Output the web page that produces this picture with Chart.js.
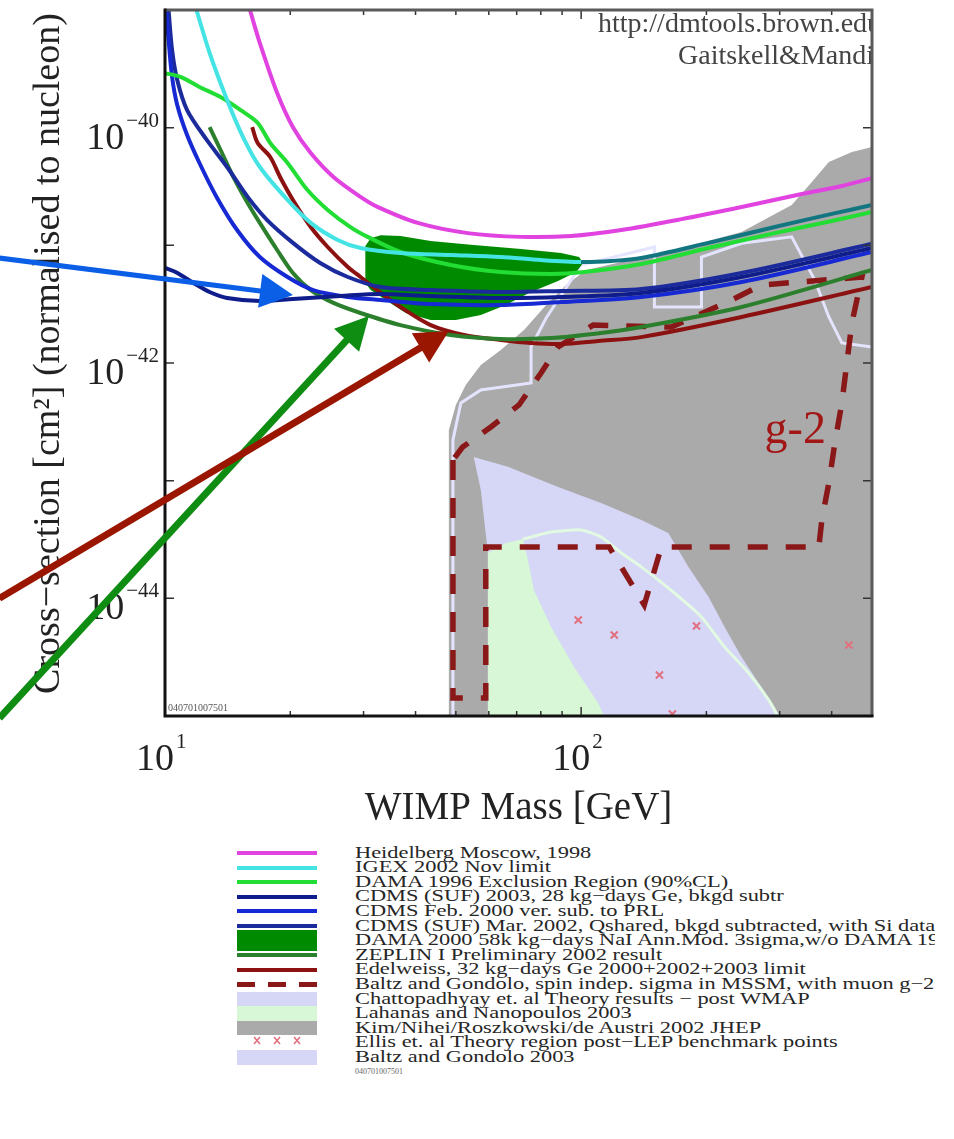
<!DOCTYPE html>
<html>
<head>
<meta charset="utf-8">
<title>WIMP-nucleon cross-section limits</title>
<script src="https://cdn.jsdelivr.net/npm/chart.js@4.4.1/dist/chart.umd.min.js"></script>
<style>
  html, body { margin: 0; padding: 0; background: #fff; }
  #page { position: relative; width: 954px; height: 1139px; overflow: hidden;
          font-family: "Liberation Serif", "Times New Roman", Times, serif; }
  #chart { position: absolute; left: 0; top: 0; }
  #legend { position: absolute; left: 237px; top: 845.7px; width: 698px; overflow: hidden; }
  .row { position: relative; height: 14.6px; white-space: nowrap; }
  .sw { position: absolute; left: 0; width: 80px; }
  .txt { position: absolute; left: 118px; top: 0; height: 14.6px; line-height: 14.6px;
         font-size: 22.4px; color: #262626; transform: scaleY(0.75); transform-origin: 0 50%; }
  #ident { position: absolute; left: 355px; top: 1067px; font-size: 8px; color: #666; }
</style>
</head>
<body>
<div id="page">
  <canvas id="chart" width="954" height="840"></canvas>
  <div id="legend"></div>
  <div id="ident">040701007501</div>
</div>
<script>
// ---- axis ticks (labels are 10 raised to the given exponent) ----------
const massTicks = [10, 20, 30, 40, 50, 60, 70, 80, 90, 100, 200, 300, 400, 500];
const massTickExp = ['1', '', '', '', '', '', '', '', '', '2', '', '', '', ''];
const sigmaTicks = [1e-45, 1e-44, 1e-43, 1e-42, 1e-41, 1e-40, 1e-39];
const sigmaTickExp = ['', '\u221244', '', '\u221242', '', '\u221240', ''];

// ---- experimental limits: WIMP mass [GeV] / cross-section [cm^2] ------
const hmMass  = [16.0, 16.9, 18.6, 20.3, 22.4, 25.4, 29.5, 32.4, 40.5, 53.4, 71.7, 94.6, 124.9, 174.2, 243, 338.9, 423.2, 500];
const hmSigma = [1.0e-39, 5.24e-40, 1.97e-40, 1.01e-40, 6.09e-41, 3.81e-41, 2.58e-41, 2.12e-41, 1.55e-41, 1.27e-41, 1.18e-41, 1.20e-41, 1.35e-41, 1.67e-41, 2.12e-41, 2.73e-41, 3.19e-41, 3.73e-41];

const igexMass  = [11.9, 12.8, 14.1, 15.4, 16.9, 19.7, 22.4, 26.0, 29.5, 36.8, 48.6, 64.1, 80.1, 100, 118.1, 139.5, 202.3, 291.8, 400.5, 500];
const igexSigma = [1.0e-39, 4.31e-40, 1.72e-40, 8.33e-41, 4.63e-41, 2.43e-41, 1.55e-41, 1.11e-41, 9.49e-42, 8.61e-42, 8.28e-42, 7.96e-42, 7.50e-42, 7.22e-42, 7.36e-42, 7.80e-42, 1.05e-41, 1.43e-41, 1.85e-41, 2.20e-41];

const dama96Mass  = [10.0, 10.9, 12.1, 13.6, 15.2, 16.7, 17.9, 19.7, 22.0, 24.6, 27.9, 30.7, 36.8, 48.6, 64.1, 84.7, 101.7, 139.5, 202.3, 291.8, 400.5, 500];
const dama96Sigma = [2.91e-40, 2.70e-40, 2.22e-40, 1.82e-40, 1.41e-40, 1.10e-40, 7.41e-41, 5.01e-41, 2.95e-41, 2.00e-41, 1.43e-41, 1.18e-41, 8.78e-42, 6.81e-42, 5.93e-42, 5.71e-42, 5.93e-42, 6.94e-42, 9.49e-42, 1.27e-41, 1.61e-41, 1.92e-41];

const cdms03Mass  = [10.0, 10.6, 11.7, 12.8, 14.1, 16.9, 20.3, 26.4, 33.0, 43.5, 64.1, 89.5, 139.5, 243, 500];
const cdms03Sigma = [6.42e-42, 5.93e-42, 4.79e-42, 4.01e-42, 3.57e-42, 3.37e-42, 3.50e-42, 3.71e-42, 3.86e-42, 3.71e-42, 3.57e-42, 3.64e-42, 3.94e-42, 5.38e-42, 9.49e-42];

const cdms00Mass  = [10.06, 10.2, 10.4, 10.7, 11.3, 12.1, 13.3, 14.9, 16.9, 19.7, 22.7, 27.5, 33.0, 43.5, 64.1, 89.5, 139.5, 243, 500];
const cdms00Sigma = [1.0e-39, 5.56e-40, 2.70e-40, 1.56e-40, 8.66e-41, 5.01e-41, 2.58e-41, 1.35e-41, 7.96e-42, 5.38e-42, 4.17e-42, 3.64e-42, 3.43e-42, 3.17e-42, 3.11e-42, 3.30e-42, 3.64e-42, 4.88e-42, 8.78e-42];

const cdms02Mass  = [10.2, 10.4, 10.7, 11.3, 12.6, 14.1, 15.8, 17.6, 20.3, 23.6, 27.5, 33.0, 43.5, 64.1, 89.5, 139.5, 243, 500];
const cdms02Sigma = [1.0e-39, 4.57e-40, 2.54e-40, 1.41e-40, 7.86e-41, 4.63e-41, 2.58e-41, 1.64e-41, 1.05e-41, 7.08e-42, 5.38e-42, 4.42e-42, 4.17e-42, 4.01e-42, 4.09e-42, 4.25e-42, 5.82e-42, 1.03e-41];

const zeplinMass  = [12.8, 13.6, 14.6, 15.8, 16.9, 18.6, 20.3, 22.4, 25.4, 29.5, 36.8, 48.6, 64.1, 84.7, 111.7, 139.5, 243, 500];
const zeplinSigma = [1.01e-40, 6.46e-41, 3.81e-41, 2.29e-41, 1.55e-41, 9.13e-42, 5.82e-42, 4.17e-42, 3.24e-42, 2.66e-42, 2.10e-42, 1.73e-42, 1.60e-42, 1.63e-42, 1.80e-42, 2.02e-42, 2.99e-42, 6.17e-42];

const edelMass  = [16.2, 16.7, 17.9, 18.9, 20.3, 22.4, 24.6, 27.5, 29.5, 33.0, 36.8, 43.5, 52.3, 64.1, 75.8, 89.5, 109.9, 139.5, 243, 500];
const edelSigma = [1.01e-40, 7.41e-41, 5.63e-41, 3.81e-41, 2.43e-41, 1.43e-41, 9.68e-42, 6.54e-42, 5.38e-42, 3.94e-42, 2.99e-42, 2.10e-42, 1.73e-42, 1.57e-42, 1.48e-42, 1.45e-42, 1.54e-42, 1.66e-42, 2.46e-42, 4.42e-42];

// DAMA 2000 annual-modulation region (closed contour)
const dama00Mass  = [30.3, 31.2, 33.0, 36.8, 43.5, 54.3, 71.7, 89.5, 98.9, 101.1, 97.3, 88.0, 75.8, 65.9, 57.4, 50.0, 43.5, 37.9, 33.9, 31.2, 30.3, 30.3];
const dama00Sigma = [9.87e-42, 1.15e-41, 1.22e-41, 1.20e-41, 1.09e-41, 1.01e-41, 9.31e-42, 8.61e-42, 7.96e-42, 7.08e-42, 5.93e-42, 4.98e-42, 4.01e-42, 3.11e-42, 2.56e-42, 2.32e-42, 2.32e-42, 2.66e-42, 3.43e-42, 4.17e-42, 4.79e-42, 9.87e-42];

// ---- theory regions (closed contours) ---------------------------------
const kimMass  = [48.1, 48.1, 50.0, 52.8, 57.4, 64.1, 72.9, 82.4, 92.0, 102.8, 124.9, 174.2, 243, 320.6, 358.4, 393.8, 447.3, 500, 500, 48.1];
const kimSigma = [1e-45, 2.70e-43, 4.40e-43, 6.51e-43, 9.62e-43, 1.29e-42, 1.91e-42, 3.11e-42, 4.60e-42, 6.17e-42, 7.22e-42, 9.49e-42, 1.30e-41, 2.20e-41, 3.45e-41, 5.11e-41, 6.21e-41, 6.85e-41, 1e-45, 1e-45];

const chatMass  = [59.7, 59.7, 57.4, 55.2, 66.7, 88.0, 111.7, 139.5, 162.0, 171.3, 181.1, 202.3, 221.2, 243, 267, 291.8, 300, 59.7];
const chatSigma = [1e-45, 2.43e-44, 8.33e-44, 1.59e-43, 1.31e-43, 8.84e-44, 6.46e-44, 4.63e-44, 3.59e-44, 2.58e-44, 1.85e-44, 1.03e-44, 5.71e-45, 3.17e-45, 1.91e-45, 1.19e-45, 1e-45, 1e-45];

const lahanasMass  = [59.7, 59.7, 65.9, 72.5, 74.5, 77.0, 84.7, 96.2, 109.9, 113.6, 59.7];
const lahanasSigma = [1e-45, 2.43e-44, 2.95e-44, 3.19e-44, 2.12e-44, 1.18e-44, 5.71e-45, 2.61e-45, 1.29e-45, 1e-45, 1e-45];

const lahanasEdgeMass  = [72.5, 84.7, 100, 111.7, 124.9, 139.5, 167.5, 194.6, 221.2, 252.6, 282.2, 296.7];
const lahanasEdgeSigma = [3.19e-44, 3.66e-44, 3.81e-44, 3.32e-44, 2.43e-44, 1.85e-44, 1.11e-44, 6.94e-45, 3.86e-45, 2.32e-45, 1.37e-45, 1e-45];

const baltz03Mass  = [49.2, 49.2, 51.4, 57.4, 75.8, 75.8, 82.4, 100, 150, 150, 194.6, 194.6, 243, 320.6, 364.3, 393.8, 423.2, 500];
const baltz03Sigma = [1e-45, 2.22e-43, 4.57e-43, 5.90e-43, 6.76e-43, 1.37e-42, 2.41e-42, 6.81e-42, 9.68e-42, 2.99e-42, 2.99e-42, 7.96e-42, 1.04e-41, 1.18e-41, 5.07e-42, 2.46e-42, 1.48e-42, 1.37e-42];

const baltzG2Mass  = [49.2, 49.2, 59.0, 59.0, 116.8, 141.8, 155.9, 372.6, 378.8, 393.8, 407.1, 423.2, 435.0, 447.3, 472.8, 271.5, 229.8, 164.8, 106.9, 88.0, 80.1, 70.9, 60.7, 51.9, 49.2];
const baltzG2Sigma = [1.50e-43, 1.42e-45, 1.42e-45, 2.73e-44, 2.73e-44, 8.78e-45, 2.73e-44, 2.73e-44, 4.63e-44, 9.56e-44, 2.09e-43, 4.57e-43, 1.0e-42, 2.19e-42, 5.38e-42, 4.60e-42, 3.43e-42, 2.02e-42, 2.10e-42, 1.37e-42, 8.22e-43, 4.40e-43, 2.86e-43, 1.93e-43, 1.50e-43];

const ellisMass  = [98.4, 120.1, 189.3, 154.2, 165.7, 439.9];
const ellisSigma = [6.55e-45, 4.88e-45, 5.82e-45, 2.23e-45, 1.04e-45, 4.01e-45];

// ---- pointer arrows (tail -> head) ------------------------------------
const arrowTailMass  = [4.0, 4.0, 4.0];
const arrowTailSigma = [7.8e-42, 9.6e-46, 1.0e-44];
const arrowHeadMass  = [20.3, 30.9, 48.1];
const arrowHeadSigma = [3.78e-42, 2.51e-42, 1.87e-42];
const arrowColors    = ['#0b5ee6', '#0f8c12', '#9a1600'];
const arrowWidths    = [5, 7, 7];

const g2Label = { text: 'g-2', mass: 276, sigma: 2.1e-43 };

const SERIF = '"Liberation Serif", "Times New Roman", Times, serif';
const pts = (xs, ys) => xs.map((x, i) => ({ x, y: ys[i] }));

function curve(label, xs, ys, color, order, extra) {
  return Object.assign({
    label, data: pts(xs, ys), showLine: true, borderColor: color, backgroundColor: color,
    borderWidth: 4, pointRadius: 0, pointHoverRadius: 0, tension: 0.3, fill: false, order
  }, extra || {});
}
function region(label, xs, ys, color, order) {
  return {
    label, data: pts(xs, ys), showLine: true, borderColor: 'rgba(0,0,0,0)', borderWidth: 0.01,
    backgroundColor: color, pointRadius: 0, pointHoverRadius: 0, tension: 0, fill: 'shape', order
  };
}

const datasets = [
  curve('Heidelberg Moscow, 1998', hmMass, hmSigma, '#e043e0', 10),
  curve('IGEX 2002 Nov limit', igexMass, igexSigma, '#44e4e4', 11, {
    segment: { borderColor: c => (c.p0.parsed.x >= 100 ? '#127680' : '#44e4e4') }
  }),
  curve('DAMA 1996 Exclusion Region (90%CL)', dama96Mass, dama96Sigma, '#22dd33', 12),
  curve('CDMS (SUF) 2003, 28 kg\u2212days Ge, bkgd subtr', cdms03Mass, cdms03Sigma, '#0f1d8c', 13),
  curve('CDMS Feb. 2000 ver. sub. to PRL', cdms00Mass, cdms00Sigma, '#1629d2', 14),
  curve('CDMS (SUF) Mar. 2002, Qshared, bkgd subtracted, with Si data', cdms02Mass, cdms02Sigma, '#1b2b9c', 15),
  region('DAMA 2000 58k kg\u2212days NaI Ann.Mod. 3sigma,w/o DAMA 1996', dama00Mass, dama00Sigma, '#008a00', 30),
  curve('ZEPLIN I Preliminary 2002 result', zeplinMass, zeplinSigma, '#2c7f2c', 16),
  curve('Edelweiss, 32 kg\u2212days Ge 2000+2002+2003 limit', edelMass, edelSigma, '#8c1212', 17),
  curve('Baltz and Gondolo, spin indep. sigma in MSSM, with muon g\u22122 constraint', baltzG2Mass, baltzG2Sigma, '#8a1818', 40,
        { tension: 0, borderWidth: 5.5, borderDash: [20, 18], borderCapStyle: 'butt', borderJoinStyle: 'miter' }),
  region('Chattopadhyay et. al Theory results \u2212 post WMAP', chatMass, chatSigma, '#d6d6f6', 90),
  region('Lahanas and Nanopoulos 2003', lahanasMass, lahanasSigma, '#d7f7d7', 85),
  curve('Lahanas and Nanopoulos 2003 boundary', lahanasEdgeMass, lahanasEdgeSigma, '#e2fae2', 84, { borderWidth: 3, tension: 0.2 }),
  region('Kim/Nihei/Roszkowski/de Austri 2002 JHEP', kimMass, kimSigma, '#aaaaaa', 100),
  {
    label: 'Ellis et. al Theory region post\u2212LEP benchmark points', data: pts(ellisMass, ellisSigma),
    showLine: false, pointStyle: 'crossRot', pointRadius: 5, pointHoverRadius: 5,
    borderColor: '#e2707e', backgroundColor: '#f4c8cf', pointBorderWidth: 2, order: 35
  },
  curve('Baltz and Gondolo 2003', baltz03Mass, baltz03Sigma, '#e4e4ff', 95, { borderWidth: 3, tension: 0 })
];

// legend rows (drawn as HTML below the plot)
const legendRows = [
  ['Heidelberg Moscow, 1998', 'line', '#e043e0'],
  ['IGEX 2002 Nov limit', 'line', '#44e4e4'],
  ['DAMA 1996 Exclusion Region (90%CL)', 'line', '#22dd33'],
  ['CDMS (SUF) 2003, 28 kg\u2212days Ge, bkgd subtr', 'line', '#0f1d8c'],
  ['CDMS Feb. 2000 ver. sub. to PRL', 'line', '#1629d2'],
  ['CDMS (SUF) Mar. 2002, Qshared, bkgd subtracted, with Si data', 'line', '#1b2b9c'],
  ['DAMA 2000 58k kg\u2212days NaI Ann.Mod. 3sigma,w/o DAMA 1996', 'thick', '#008a00'],
  ['ZEPLIN I Preliminary 2002 result', 'line', '#2c7f2c'],
  ['Edelweiss, 32 kg\u2212days Ge 2000+2002+2003 limit', 'line', '#8c1212'],
  ['Baltz and Gondolo, spin indep. sigma in MSSM, with muon g\u22122 constraint', 'dash', '#8a1818'],
  ['Chattopadhyay et. al Theory results \u2212 post WMAP', 'block', '#d6d6f6'],
  ['Lahanas and Nanopoulos 2003', 'block', '#d7f7d7'],
  ['Kim/Nihei/Roszkowski/de Austri 2002 JHEP', 'block', '#aaaaaa'],
  ['Ellis et. al Theory region post\u2212LEP benchmark points', 'marks', '#e2707e'],
  ['Baltz and Gondolo 2003', 'block', '#d6d6f6']
];

(function buildLegend() {
  const box = document.getElementById('legend');
  legendRows.forEach(([text, kind, color]) => {
    const row = document.createElement('div');
    row.className = 'row';
    let sw = '';
    if (kind === 'line') sw = `<div class="sw" style="top:5.3px;height:4px;background:${color}"></div>`;
    else if (kind === 'thick') sw = `<div class="sw" style="top:-3px;height:21px;background:${color}"></div>`;
    else if (kind === 'block') sw = `<div class="sw" style="top:0;height:14.6px;background:${color}"></div>`;
    else if (kind === 'dash') sw = [0, 31, 62].map(l => `<div class="sw" style="left:${l}px;width:18px;top:5px;height:5px;background:${color}"></div>`).join('');
    else if (kind === 'marks') sw = `<svg class="sw" style="top:0;height:14.6px" width="80" height="15">` +
      [20, 40, 60].map(c => `<path d="M${c - 3} 2 L${c + 3} 9 M${c + 3} 2 L${c - 3} 9" stroke="${color}" stroke-width="1.6"/>`).join('') + `</svg>`;
    row.innerHTML = sw + `<span class="txt">${text}</span>`;
    box.appendChild(row);
  });
})();

function drawArrow(ctx, x0, y0, x1, y1, color, width) {
  const ang = Math.atan2(y1 - y0, x1 - x0);
  const headLen = 33, headHalf = 17;
  const bx = x1 - headLen * Math.cos(ang), by = y1 - headLen * Math.sin(ang);
  ctx.strokeStyle = color; ctx.lineWidth = width; ctx.lineCap = 'butt';
  ctx.beginPath(); ctx.moveTo(x0, y0); ctx.lineTo(bx + 2 * Math.cos(ang), by + 2 * Math.sin(ang)); ctx.stroke();
  ctx.fillStyle = color;
  ctx.beginPath();
  ctx.moveTo(x1, y1);
  ctx.lineTo(bx + headHalf * Math.sin(ang), by - headHalf * Math.cos(ang));
  ctx.lineTo(bx - headHalf * Math.sin(ang), by + headHalf * Math.cos(ang));
  ctx.closePath(); ctx.fill();
}

// power-of-ten tick labels: "10" with a raised exponent
function drawPowerLabel(ctx, exp, anchorX, baseY, align) {
  ctx.font = '38px ' + SERIF;
  const wBase = ctx.measureText('10').width;
  ctx.font = '21px ' + SERIF;
  const wExp = ctx.measureText(exp).width;
  const left = align === 'right' ? anchorX - wBase - 2 - wExp : anchorX;
  ctx.textAlign = 'left'; ctx.textBaseline = 'alphabetic';
  ctx.font = '38px ' + SERIF;
  ctx.fillText('10', left, baseY);
  ctx.font = '21px ' + SERIF;
  ctx.fillText(exp, left + wBase + 2, baseY - 22);
}

// frame, inward tick marks, tick labels, in-plot texts and pointer arrows
const decor = {
  id: 'decor',
  afterDatasetsDraw(chart) {
    const { ctx, chartArea: a, scales: { x, y } } = chart;
    ctx.save();
    // texts inside the plot, clipped to the frame
    ctx.beginPath(); ctx.rect(a.left, a.top, a.right - a.left, a.bottom - a.top); ctx.clip();
    ctx.fillStyle = '#444'; ctx.textAlign = 'left'; ctx.textBaseline = 'alphabetic';
    ctx.font = '28px ' + SERIF;
    ctx.fillText('http://dmtools.brown.edu', a.left + 433, a.top + 22);
    ctx.fillText('Gaitskell&Mandic', a.left + 513, a.top + 54);
    ctx.fillStyle = '#a31616'; ctx.font = '46px ' + SERIF;
    ctx.fillText(g2Label.text, x.getPixelForValue(g2Label.mass), y.getPixelForValue(g2Label.sigma));
    ctx.fillStyle = '#555'; ctx.font = '10px ' + SERIF;
    ctx.fillText('040701007501', a.left + 3, a.bottom - 5);
    ctx.restore();

    ctx.save();
    ctx.strokeStyle = '#333'; ctx.lineWidth = 1.5;
    x.ticks.forEach(t => {
      const px = x.getPixelForValue(t.value), len = massTickExp[massTicks.indexOf(t.value)] ? 9 : 5;
      ctx.beginPath();
      ctx.moveTo(px, a.bottom); ctx.lineTo(px, a.bottom - len);
      ctx.moveTo(px, a.top); ctx.lineTo(px, a.top + len);
      ctx.stroke();
    });
    y.ticks.forEach(t => {
      const py = y.getPixelForValue(t.value), len = 9;
      ctx.beginPath();
      ctx.moveTo(a.left, py); ctx.lineTo(a.left + len, py);
      ctx.moveTo(a.right, py); ctx.lineTo(a.right - len, py);
      ctx.stroke();
    });
    // tick labels
    ctx.fillStyle = '#222';
    x.ticks.forEach(t => {
      const exp = massTickExp[massTicks.indexOf(t.value)];
      if (exp) drawPowerLabel(ctx, exp, x.getPixelForValue(t.value) - 29, a.bottom + 54, 'left');
    });
    y.ticks.forEach(t => {
      const exp = sigmaTickExp[sigmaTicks.indexOf(t.value)];
      if (exp) drawPowerLabel(ctx, exp, a.left - 6, y.getPixelForValue(t.value) + 21, 'right');
    });
    // frame
    ctx.lineWidth = 3; ctx.strokeStyle = '#5a5a5a';
    ctx.beginPath(); ctx.moveTo(a.left, a.top); ctx.lineTo(a.right, a.top); ctx.lineTo(a.right, a.bottom); ctx.stroke();
    ctx.strokeStyle = '#111';
    ctx.beginPath(); ctx.moveTo(a.left, a.top - 1.5); ctx.lineTo(a.left, a.bottom); ctx.lineTo(a.right + 1.5, a.bottom); ctx.stroke();
    ctx.restore();
  },
  afterDraw(chart) {
    const { ctx, scales: { x, y } } = chart;
    ctx.save();
    arrowTailMass.forEach((m, i) => {
      drawArrow(ctx,
        x.getPixelForValue(m), y.getPixelForValue(arrowTailSigma[i]),
        x.getPixelForValue(arrowHeadMass[i]), y.getPixelForValue(arrowHeadSigma[i]),
        arrowColors[i], arrowWidths[i]);
    });
    ctx.restore();
  }
};

new Chart(document.getElementById('chart'), {
  type: 'scatter',
  data: { datasets },
  options: {
    responsive: false,
    animation: false,
    devicePixelRatio: 1,
    layout: { padding: { left: 0, right: 82, top: 10, bottom: 0 } },
    plugins: { legend: { display: false }, tooltip: { enabled: false } },
    events: [],
    scales: {
      x: {
        type: 'logarithmic', position: 'bottom', min: 10, max: 500, bounds: 'data',
        grid: { display: false, drawTicks: false }, border: { display: false },
        afterBuildTicks: s => { s.ticks = massTicks.map(v => ({ value: v })); },
        afterFit: s => { s.height = 124; },
        ticks: { display: false, autoSkip: false },
        title: { display: true, text: 'WIMP Mass [GeV]', color: '#222',
                 font: { family: SERIF, size: 39 }, padding: { top: 0, bottom: 8 } }
      },
      y: {
        type: 'logarithmic', position: 'left', min: 1e-45, max: 1e-39, bounds: 'data',
        grid: { display: false, drawTicks: false }, border: { display: false },
        afterBuildTicks: s => { s.ticks = sigmaTicks.map(v => ({ value: v })); },
        afterFit: s => { s.width = 165; },
        ticks: { display: false, autoSkip: false },
        title: { display: true, text: '\u2002Cross\u2212section [cm\u00b2] (normalised to nucleon)', color: '#222',
                 font: { family: SERIF, size: 38 }, padding: { top: 26, bottom: 0 } }
      }
    }
  },
  plugins: [decor]
});
</script>
</body>
</html>
